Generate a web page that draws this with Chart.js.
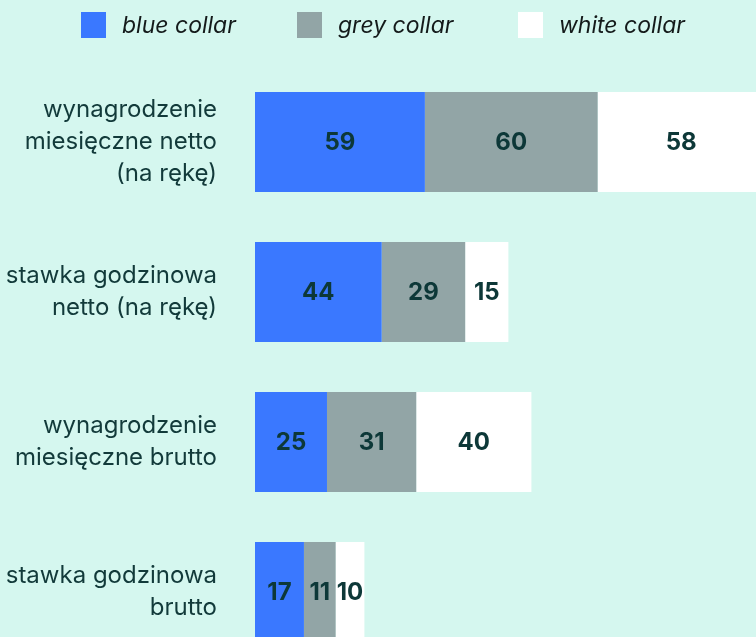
<!DOCTYPE html>
<html>
<head>
<meta charset="utf-8">
<script src="https://cdn.jsdelivr.net/npm/chart.js@4.4.1/dist/chart.umd.min.js"></script>
<style>
  body { margin: 0; background: #d5f7ef; overflow: hidden; font-family: Inter, sans-serif; }
  #wrap { position: relative; width: 756px; height: 667px; }
  #legend { position: absolute; top: 0; left: 0; width: 756px; height: 50px; }
  .leg-item { position: absolute; top: 12px; display: flex; align-items: center; height: 26px; }
  .leg-box { width: 25px; height: 26px; margin-right: 16px; }
  .leg-text { font-style: italic; font-size: 23px; color: #141a1a; white-space: nowrap; }
  canvas { display: block; }
</style>
</head>
<body>
<div id="wrap">
  <div id="legend"></div>
  <canvas id="barChart" width="756" height="667"></canvas>
</div>
<script>
const categories = [
    ['wynagrodzenie', 'miesięczne netto', '(na rękę)'],
    ['stawka godzinowa', 'netto (na rękę)'],
    ['wynagrodzenie', 'miesięczne brutto'],
    ['stawka godzinowa', 'brutto']
];
const seriesNames = ['blue collar', 'grey collar', 'white collar'];
const blueCollar = [59, 44, 25, 17];
const greyCollar = [60, 29, 31, 11];
const whiteCollar = [58, 15, 40, 10];
const seriesColors = ['#3a78ff', '#92a5a6', '#ffffff'];

// legend drawn as html above the canvas
const legendLeft = [81, 297, 518];
const legendEl = document.getElementById('legend');
seriesNames.forEach(function(name, i) {
    const item = document.createElement('div');
    item.className = 'leg-item';
    item.style.left = legendLeft[i] + 'px';
    item.innerHTML = '<div class="leg-box" style="background:' + seriesColors[i] + '"></div>' +
        '<span class="leg-text">' + name + '</span>';
    legendEl.appendChild(item);
});

// values in the middle of every segment
const segmentLabels = {
    id: 'segmentLabels',
    afterDatasetsDraw(chart) {
        const ctx = chart.ctx;
        ctx.save();
        ctx.font = 'bold 24px Inter, sans-serif';
        ctx.fillStyle = '#0d3838';
        ctx.textAlign = 'center';
        ctx.textBaseline = 'middle';
        chart.data.datasets.forEach(function(ds, i) {
            chart.getDatasetMeta(i).data.forEach(function(bar, j) {
                const cx = (bar.x + bar.base) / 2;
                ctx.fillText(ds.data[j], cx, bar.y + 1);
            });
        });
        ctx.restore();
    }
};

const ctx = document.getElementById('barChart').getContext('2d');
const barChart = new Chart(ctx, {
    type: 'bar',
    data: {
        labels: categories,
        datasets: [
            { label: seriesNames[0], data: blueCollar, backgroundColor: seriesColors[0] },
            { label: seriesNames[1], data: greyCollar, backgroundColor: seriesColors[1] },
            { label: seriesNames[2], data: whiteCollar, backgroundColor: seriesColors[2] }
        ]
    },
    options: {
        indexAxis: 'y',
        responsive: false,
        animation: false,
        layout: { padding: { top: 67, left: 0, right: 0, bottom: 0 } },
        datasets: {
            bar: { barPercentage: 2 / 3, categoryPercentage: 1, borderWidth: 0 }
        },
        plugins: {
            legend: { display: false },
            tooltip: { enabled: false }
        },
        scales: {
            x: {
                stacked: true,
                display: false,
                min: 0,
                max: 174
            },
            y: {
                stacked: true,
                grid: { display: false, drawTicks: false },
                border: { display: false },
                afterFit: function(scale) {
                    scale.width = 255;
                    scale.paddingTop = 0;
                    scale.paddingBottom = 0;
                },
                ticks: {
                    padding: 38,
                    color: '#123a3a',
                    font: { family: 'Inter, sans-serif', size: 24, lineHeight: 1.33 }
                }
            }
        }
    },
    plugins: [segmentLabels]
});
</script>
</body>
</html>
